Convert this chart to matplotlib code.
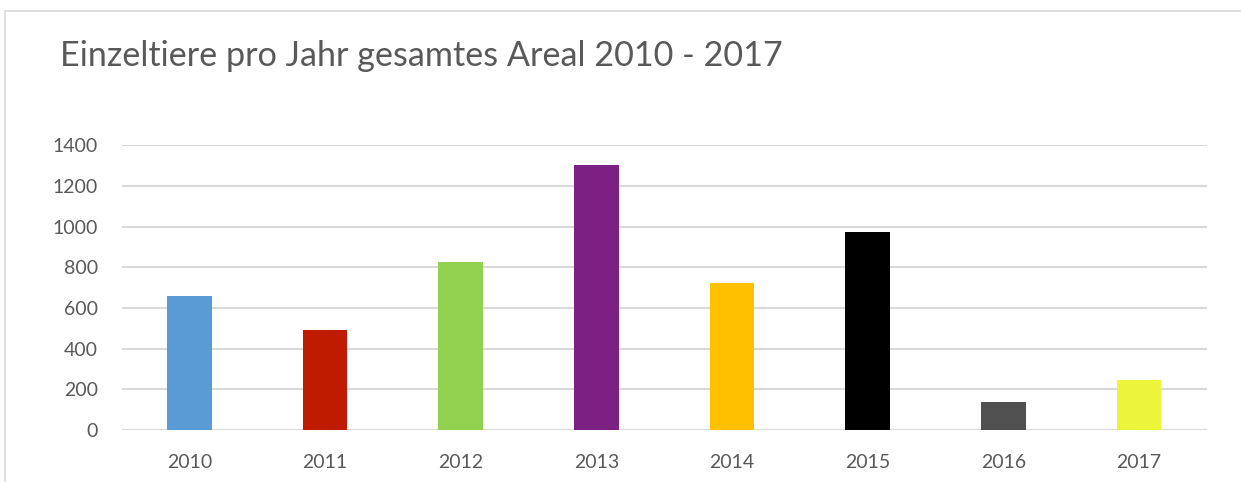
import matplotlib.pyplot as plt
from matplotlib.patches import Rectangle

# data
jahre = ['2010', '2011', '2012', '2013', '2014', '2015', '2016', '2017']
einzeltiere = [657, 490, 824, 1303, 724, 975, 136, 246]
farben = ['#5B9BD5', '#BF1B00', '#92D050', '#7B2183', '#FFC000', '#000000', '#505050', '#EDF43C']
yticks = [0, 200, 400, 600, 800, 1000, 1200, 1400]

plt.rcParams['font.family'] = ['Lato', 'DejaVu Sans']
txt = '#595959'

fig = plt.figure(figsize=(12.41, 4.82), dpi=100)
ax = fig.add_axes([0.098, 0.108, 0.8744, 0.5905])

x = range(len(jahre))
ax.bar(x, einzeltiere, width=0.33, color=farben, zorder=3)

ax.set_xlim(-0.5, len(jahre) - 0.5)
ax.set_ylim(0, 1400)
ax.set_yticks(yticks)
ax.set_xticks(list(x))
ax.set_xticklabels(jahre)
ax.yaxis.grid(True, color='#d9d9d9', linewidth=1.5, zorder=0)
ax.axhline(0, color='#d9d9d9', linewidth=1.5, zorder=2)
for s in ax.spines.values():
    s.set_visible(False)
ax.tick_params(axis='both', length=0, labelsize=14, colors=txt)
ax.tick_params(axis='y', pad=17)
ax.tick_params(axis='x', pad=17)

fig.text(0.048, 0.884, 'Einzeltiere pro Jahr gesamtes Areal 2010 - 2017',
         fontsize=24.6, color=txt, va='center', ha='left')

# chart frame
fig.patches.append(Rectangle((5 / 1241, -0.1), 1.2, 1 - 11 / 482 + 0.1,
                             transform=fig.transFigure, fill=False,
                             edgecolor='#d9d9d9', linewidth=1.2))

fig.savefig('out.png', dpi=100)
